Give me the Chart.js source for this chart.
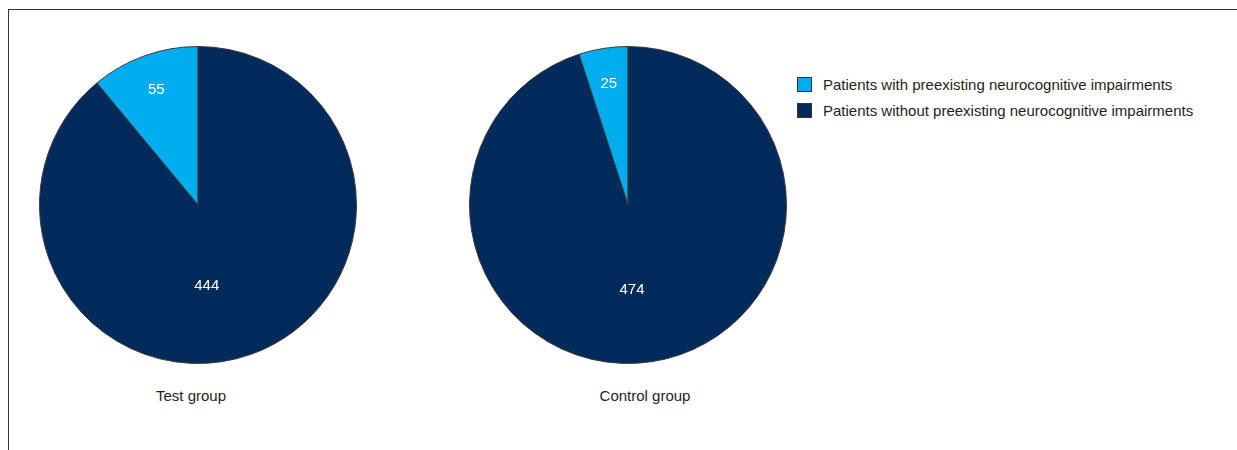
<!DOCTYPE html>
<html><head><meta charset="utf-8">
<script src="https://cdn.jsdelivr.net/npm/chart.js@4/dist/chart.umd.min.js"></script>
<style>
html,body{margin:0;padding:0;background:#fff;width:1237px;height:450px;overflow:hidden;font-family:'Liberation Sans','Arial',sans-serif;color:#231f20}
#frame{position:absolute;left:8px;top:9px;width:1240px;height:450px;border-top:1.5px solid #333;border-left:1.5px solid #333}
.pie{position:absolute;top:46px;width:318px;height:318px}
.cat{position:absolute;top:387px;font-size:15px;white-space:nowrap;transform:translateX(-50%)}
#legend{position:absolute;left:797px;top:71px;font-size:15px}
.li{display:flex;align-items:center;height:26px}
.sw{width:13px;height:13px;border:1px solid #333;margin-right:11px}
</style></head><body>
<div id="frame"></div>
<div class="pie" style="left:39px"><canvas id="c1"></canvas></div>
<div class="pie" style="left:469px"><canvas id="c2"></canvas></div>
<div class="cat" style="left:191px">Test group</div>
<div class="cat" style="left:645px">Control group</div>
<div id="legend"></div>
<script>
const groups = ['Test group', 'Control group'];
const seriesNames = ['Patients with preexisting neurocognitive impairments', 'Patients without preexisting neurocognitive impairments'];
const withImpairment = [55, 25];
const withoutImpairment = [444, 474];
const colors = ['#00adee', '#022a5b'];

const labelPlugin = {
  id: 'sliceLabels',
  afterDatasetsDraw(chart) {
    const ctx = chart.ctx;
    const meta = chart.getDatasetMeta(0);
    ctx.save();
    ctx.fillStyle = '#ffffff';
    ctx.font = '15px "Liberation Sans", Arial, sans-serif';
    ctx.textAlign = 'center';
    ctx.textBaseline = 'middle';
    meta.data.forEach((arc, i) => {
      const mid = (arc.startAngle + arc.endAngle) / 2;
      const small = (arc.endAngle - arc.startAngle) < Math.PI;
      const f = small ? 0.775 : 0.54;
      let x = arc.x + Math.cos(mid) * arc.outerRadius * f;
      const y = arc.y + Math.sin(mid) * arc.outerRadius * f;
      if (!small) x = arc.x + (x - arc.x) * 0.3;
      ctx.fillText(String(chart.data.datasets[0].data[i]), x, y);
    });
    ctx.restore();
  }
};

function makePie(id, gi) {
  const total = withImpairment[gi] + withoutImpairment[gi];
  new Chart(document.getElementById(id), {
    type: 'pie',
    data: {
      labels: seriesNames,
      datasets: [{
        data: [withImpairment[gi], withoutImpairment[gi]],
        backgroundColor: colors,
        borderColor: '#3a3a3a',
        borderWidth: 1
      }]
    },
    options: {
      responsive: true,
      maintainAspectRatio: false,
      animation: false,
      rotation: -360 * withImpairment[gi] / total,
      layout: { padding: 0 },
      plugins: { legend: { display: false }, tooltip: { enabled: false } }
    },
    plugins: [labelPlugin]
  });
}
makePie('c1', 0);
makePie('c2', 1);

const lg = document.getElementById('legend');
seriesNames.forEach((n, i) => {
  const d = document.createElement('div');
  d.className = 'li';
  d.innerHTML = '<span class="sw" style="background:' + colors[i] + '"></span><span>' + n + '</span>';
  lg.appendChild(d);
});
</script>
</body></html>
